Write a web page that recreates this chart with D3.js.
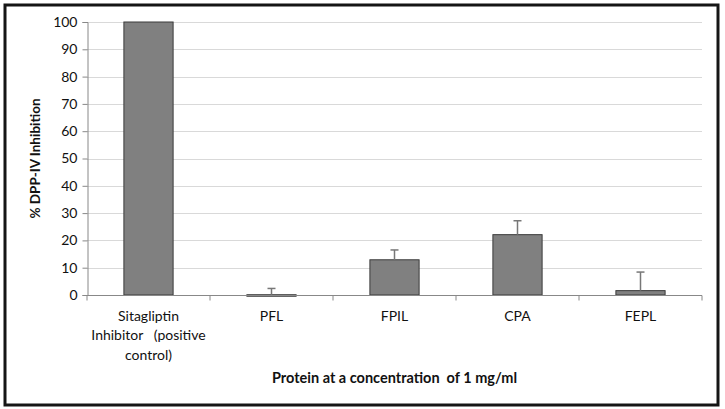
<!DOCTYPE html>
<html><head><meta charset="utf-8">
<script src="https://cdn.jsdelivr.net/npm/d3@7"></script>
<style>body{margin:0;background:#fff}svg{display:block}text{font-family:Lato,"Open Sans",sans-serif}</style>
</head><body><svg id="c" width="725" height="409"></svg>
<script>
const categories = ["Sitagliptin|Inhibitor   (positive|control)", "PFL", "FPIL", "CPA", "FEPL"];
const values = [100, 0.1, 12.9, 22.1, 1.6];
const errors = [0, 2.3, 3.6, 5.1, 6.8];
const yTicks = [0,10,20,30,40,50,60,70,80,90,100];
const yTitle = "% DPP-IV Inhibition";
const xTitle = "Protein at a concentration  of 1 mg/ml";

const svg = d3.select("#c");
const W = 725, H = 409;
const m = {left: 87, right: 23, top: 22, bottom: 114};
svg.append("rect").attr("x",5).attr("y",5).attr("width",713).attr("height",400)
  .attr("fill","#fff").attr("stroke","#151515").attr("stroke-width",3);

const x = d3.scaleBand().domain(categories).range([m.left, W - m.right]).paddingInner(0.6).paddingOuter(0.3);
const xb = d3.scaleBand().domain(categories).range([m.left, W - m.right]);
const y = d3.scaleLinear().domain([0,100]).range([H - m.bottom, m.top]);

// gridlines
svg.append("g").selectAll("line").data(yTicks.slice(1)).join("line")
  .attr("x1", m.left).attr("x2", W - m.right)
  .attr("y1", d => Math.round(y(d))+0.5).attr("y2", d => Math.round(y(d))+0.5)
  .attr("stroke","#d9d9d9").attr("stroke-width",1);

// y axis
const ya = svg.append("g").attr("transform",`translate(${m.left+0.5},0)`)
  .call(d3.axisLeft(y).tickValues(yTicks).tickSize(5).tickPadding(4));
ya.select(".domain").attr("stroke","#888");
ya.selectAll(".tick line").attr("stroke","#888");
ya.selectAll(".tick text").attr("font-size",14).attr("fill","#111").attr("dx",-1);

// bars
svg.append("g").selectAll("rect").data(values).join("rect")
  .attr("x",(d,i)=>x(categories[i])).attr("width",x.bandwidth())
  .attr("y",d=>y(Math.max(0,d))).attr("height",d=>Math.max(1.5,Math.abs(y(d)-y(0))))
  .attr("fill","#808080").attr("stroke","#3a3a3a").attr("stroke-width",1);

// error bars (positive only)
const eg = svg.append("g").attr("stroke","#777").attr("stroke-width",1.5);
values.forEach((v,i)=>{
  if(!errors[i]) return;
  const cx = x(categories[i]) + x.bandwidth()/2;
  const top = y(v+errors[i]);
  eg.append("line").attr("x1",cx).attr("x2",cx).attr("y1",y(Math.max(v,0))).attr("y2",top);
  eg.append("line").attr("x1",cx-4).attr("x2",cx+4).attr("y1",top).attr("y2",top);
});

// x axis
const xa = svg.append("g").attr("transform",`translate(0,${Math.round(y(0))+0.5})`);
xa.append("line").attr("x1",m.left).attr("x2",W-m.right).attr("stroke","#888");
const bounds = categories.map(c=>xb(c)).concat([W-m.right]);
xa.selectAll("line.t").data(bounds).join("line").attr("class","t")
  .attr("x1",d=>d).attr("x2",d=>d).attr("y1",0).attr("y2",5).attr("stroke","#888");
categories.forEach(c=>{
  const cx = xb(c)+xb.bandwidth()/2;
  const t = xa.append("text").attr("text-anchor","middle").attr("font-size",14).attr("fill","#111")
    .style("white-space","pre");
  c.split("|").forEach((ln,j)=>t.append("tspan").attr("x",cx).attr("y",25+j*19.5).text(ln));
});

// titles
svg.append("text").attr("transform",`translate(40,${(y(0)+y(100))/2}) rotate(-90)`)
  .attr("text-anchor","middle").attr("font-size",13.5).attr("font-weight","bold").attr("fill","#111").text(yTitle);
svg.append("text").attr("x",(m.left+W-m.right)/2).attr("y",383).attr("text-anchor","middle")
  .style("white-space","pre").attr("font-size",14.5).attr("font-weight","bold").attr("fill","#111").text(xTitle);
</script></body></html>
